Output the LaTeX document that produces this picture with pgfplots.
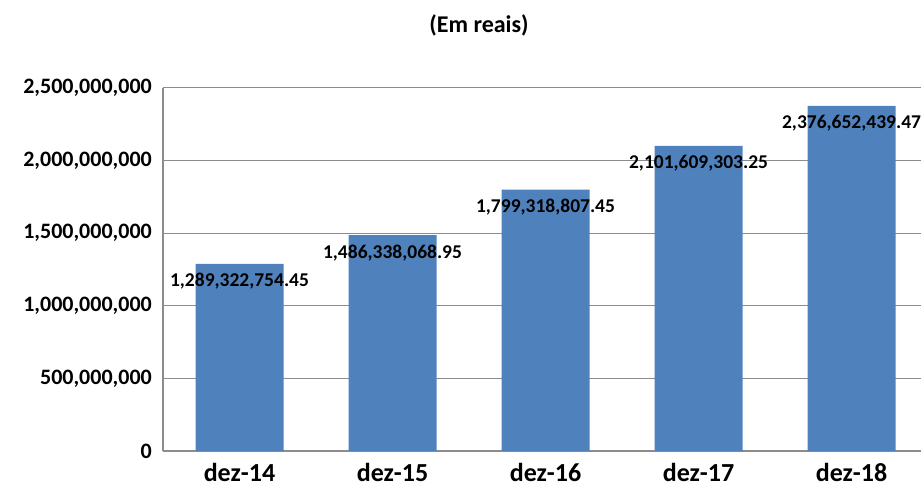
\documentclass[border=0pt]{standalone}
\usepackage{fontspec}
\setmainfont{Carlito}
\usepackage{pgfplots}
\pgfplotsset{compat=1.18}
\usepackage{pgfplotstable}
\definecolor{barblue}{HTML}{4F81BD}
\definecolor{gridgray}{HTML}{8C8C8C}
\pgfplotstableread{
x y label
0 1289322754.45 1,289,322,754.45
1 1486338068.95 1,486,338,068.95
2 1799318807.45 1,799,318,807.45
3 2101609303.25 2,101,609,303.25
4 2376652439.47 2,376,652,439.47
}\datatable
\begin{document}
\begin{tikzpicture}
\path[use as bounding box] (0pt,0pt) rectangle (921pt,488pt);
\node[font=\bfseries\fontsize{24}{28}\selectfont] at (479pt,463pt) {(Em reais)};
\begin{axis}[
 at={(163pt,37pt)}, anchor=south west,
 scale only axis, width=758pt, height=363pt,
 xmin=-0.5, xmax=4.454, ymin=0, ymax=2500000000,
 scaled y ticks=false,
 axis lines=left, axis line style={-, draw=gridgray, line width=1.2pt},
 ymajorgrids, grid style={gridgray, line width=1pt},
 xtick={0,1,2,3,4}, xticklabels={dez-14,dez-15,dez-16,dez-17,dez-18},
 ytick={0,500000000,1000000000,1500000000,2000000000,2500000000},
 yticklabels={0,{500,000,000},{1,000,000,000},{1,500,000,000},{2,000,000,000},{2,500,000,000}},
 major tick length=0pt,
 yticklabel style={font=\bfseries\fontsize{22}{26}\selectfont, inner sep=0pt, xshift=-11pt},
 xticklabel style={font=\bfseries\fontsize{26}{30}\selectfont, inner sep=0pt, yshift=-12pt},
 ybar, bar width=88pt,
 clip=false,
]
\addplot[fill=barblue, draw=none, nodes near coords, point meta=explicit symbolic,
  every node near coord/.append style={anchor=base, yshift=-23pt, font=\bfseries\fontsize{19.5}{22}\selectfont, text=black, inner sep=0pt}]
  table[x=x,y=y,meta=label] {\datatable};
\end{axis}
\end{tikzpicture}
\end{document}
